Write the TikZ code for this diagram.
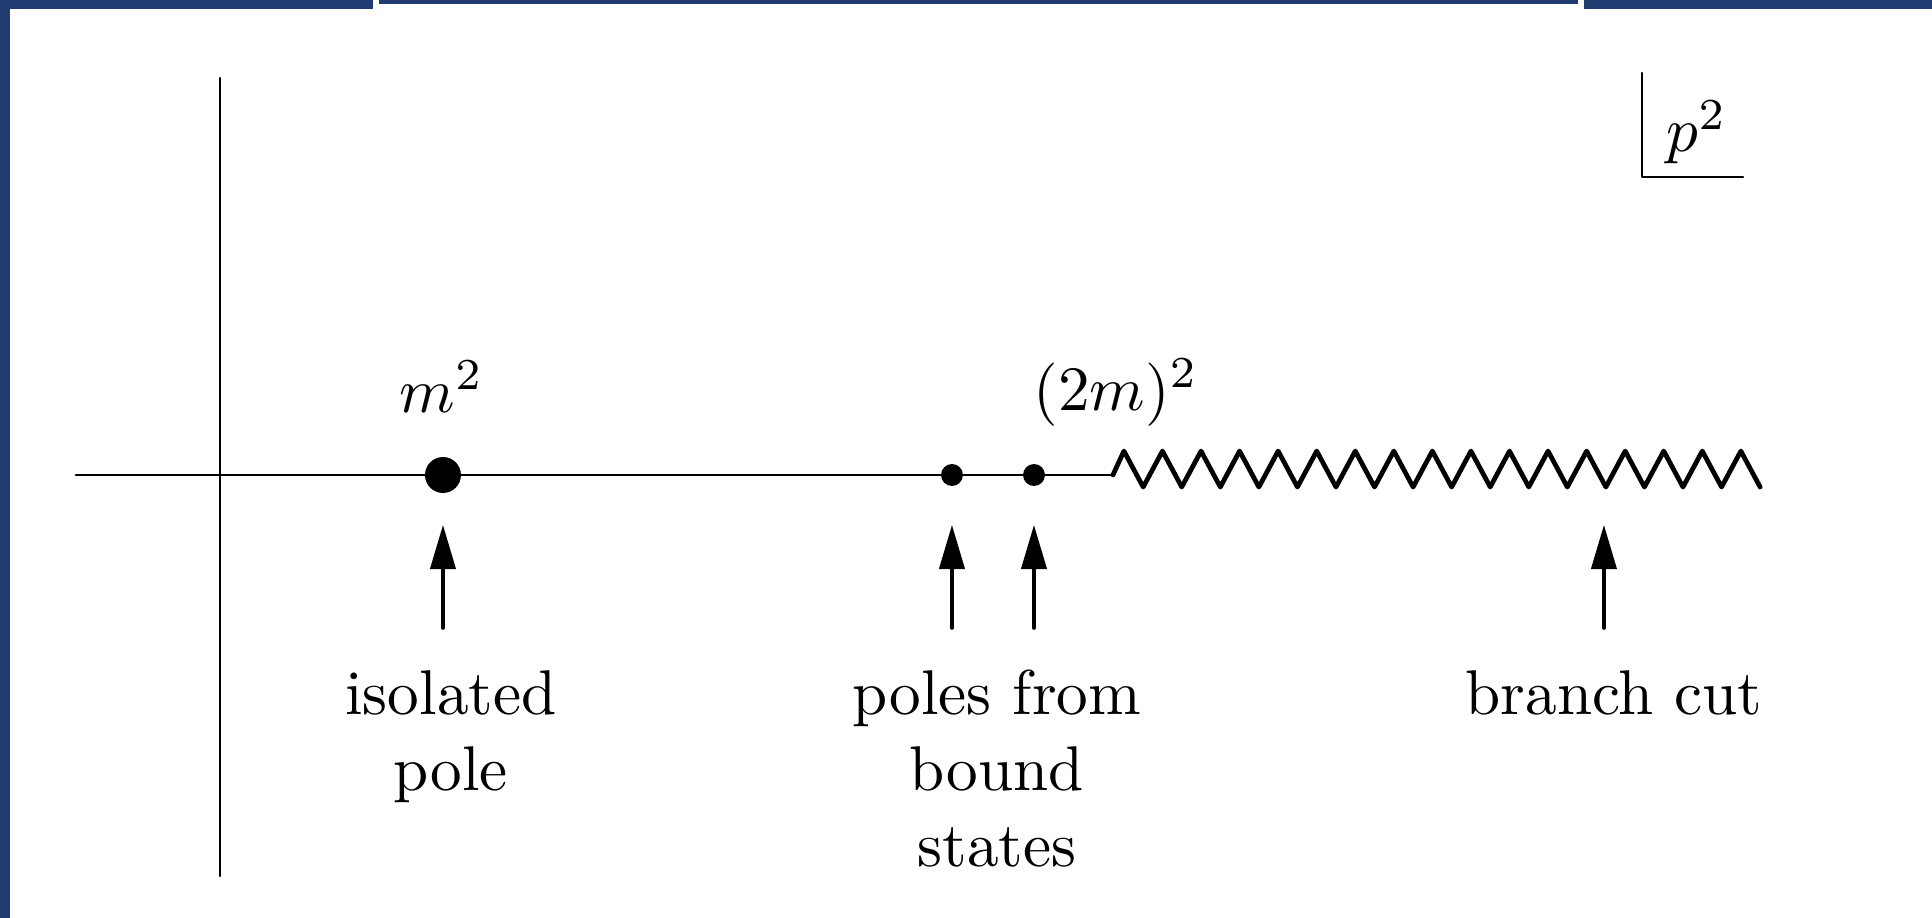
\documentclass[tikz,border=0pt]{standalone}
\usepackage{amsmath}
\usetikzlibrary{arrows.meta}
\definecolor{frameblue}{HTML}{1F3B6F}
\begin{document}
\begin{tikzpicture}[line cap=round, line join=round,
    axis/.style={line width=0.42pt},
    pole/.style={circle, fill, inner sep=0pt, outer sep=0pt},
    cut/.style={line width=0.75pt},
    arr/.style={line width=0.55pt, -{Triangle[length=7pt,width=4pt]}},
    lbl/.style={inner sep=0pt, anchor=north, align=center}]
  \useasboundingbox (-1.223,-2.463) rectangle (9.519,2.641);
  % frame
  \fill[frameblue] (-1.223,-2.463) rectangle (-1.168,2.641);
  \fill[frameblue] (-1.223,2.591) rectangle (0.851,2.641);
  \fill[frameblue] (0.884,2.619) rectangle (7.550,2.641);
  \fill[frameblue] (7.584,2.591) rectangle (9.519,2.641);
  % axes
  \coordinate (yb) at (0,-2.230);
  \coordinate (yt) at (0,2.207);
  \coordinate (xl) at (-0.801,0);
  \coordinate (zs) at (4.965,0);
  \draw[axis] (yb) -- (yt);
  \draw[axis] (xl) -- (zs);
  \draw[cut] (zs) -- (5.026,0.133)
    \foreach \k in {1,...,16} { -- ++(0.1072,-0.200) -- ++(0.1072,0.200) }
    -- ++(0.1072,-0.200);
  % poles
  \node[pole, minimum size=0.200cm] (m) at (1.240,0) {};
  \node[pole, minimum size=0.122cm] (b1) at (4.070,0) {};
  \node[pole, minimum size=0.122cm] (b2) at (4.526,0) {};
  \coordinate (bc) at (7.695,-0.278);
  \node[anchor=base, inner sep=0pt] (ml) at (1.234,0.350) {$m^2$};
  \node[anchor=base, inner sep=0pt] (tm) at (4.982,0.361) {$(2m)^2$};
  % p^2 corner
  \node[anchor=base, inner sep=0pt] (p) at (8.212,1.796) {$p^2$};
  \coordinate (pa) at (7.906,2.235);
  \coordinate (pb) at (7.906,1.657);
  \coordinate (pc) at (8.468,1.657);
  \draw[axis] (pa) -- (pb) -- (pc);
  % labels
  \node[lbl] (iso) at (1.284,-1.079) {isolated\\pole};
  \node[lbl] (bs) at (4.320,-1.079) {poles from\\bound\\states};
  \node[lbl] (br) at (7.751,-1.079) {branch cut};
  \draw[arr, shorten <=0.228cm, shorten >=0.178cm] (iso.north -| m) -- (m);
  \draw[arr, shorten <=0.228cm, shorten >=0.217cm] (bs.north -| b1) -- (b1);
  \draw[arr, shorten <=0.228cm, shorten >=0.217cm] (bs.north -| b2) -- (b2);
  \draw[arr, shorten <=0.228cm] (br.north -| bc) -- (bc);
\end{tikzpicture}
\end{document}
